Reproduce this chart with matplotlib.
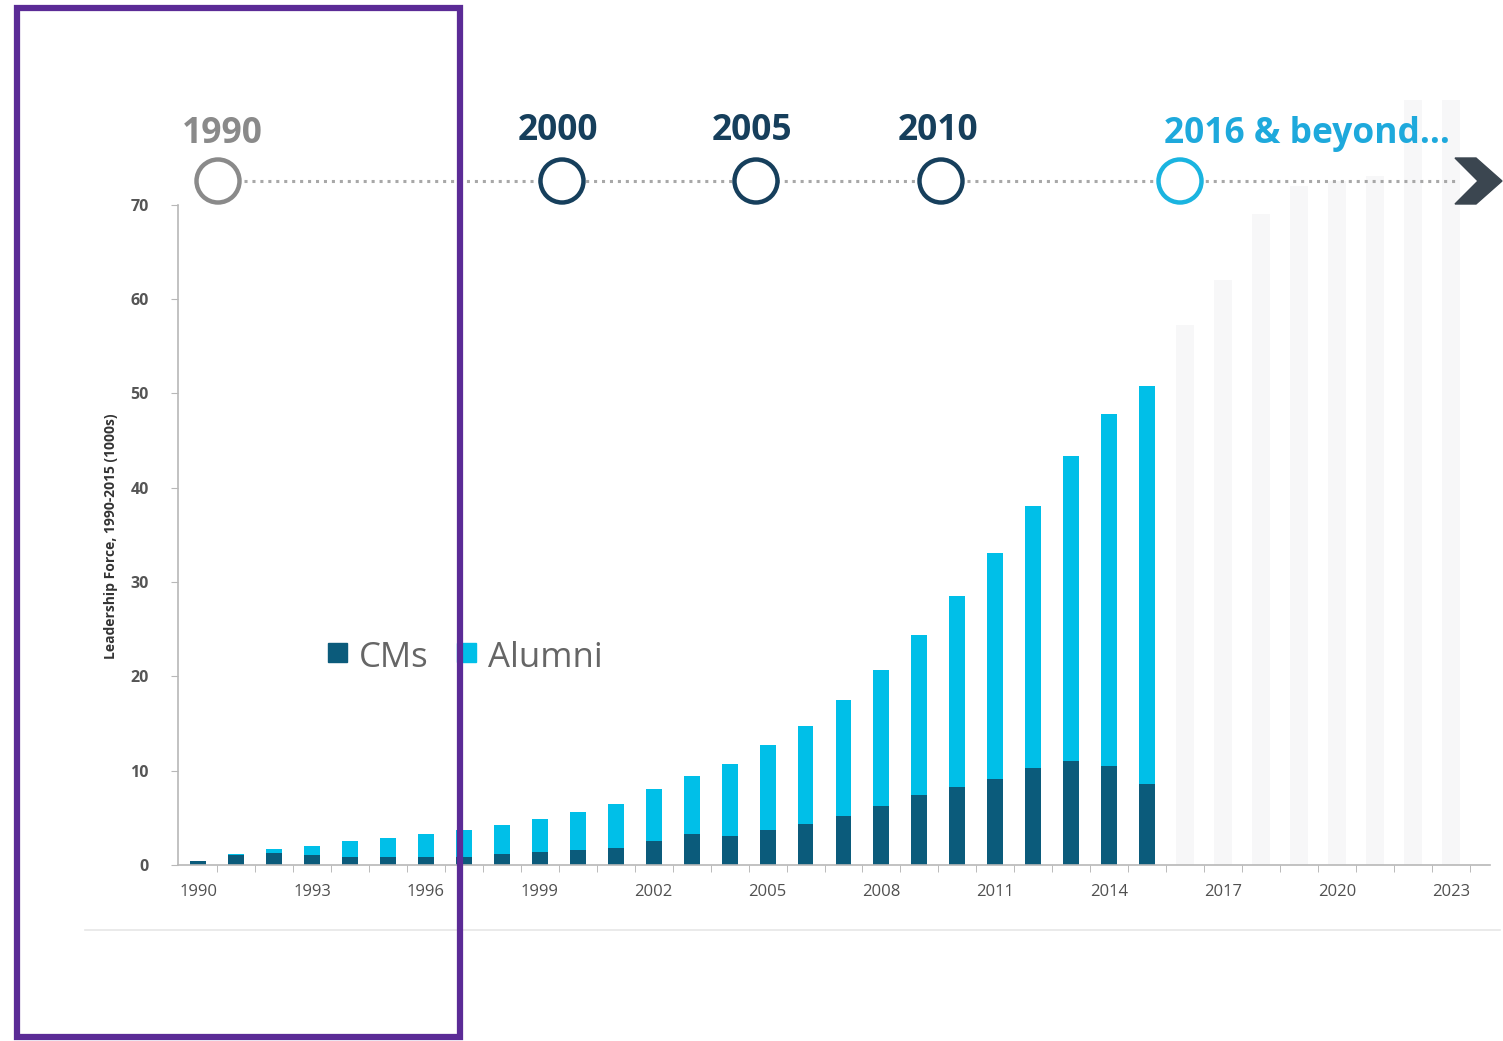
import matplotlib
matplotlib.use("Agg")
import matplotlib.pyplot as plt
from matplotlib.patches import Circle, Rectangle, Polygon
import numpy as np

plt.rcParams['font.family'] = ['Open Sans', 'DejaVu Sans']

# ---- data ----
years = list(range(1990, 2016))
cms = [0.4, 1.1, 1.3, 1.05, 0.9, 0.85, 0.85, 0.85, 1.15, 1.4, 1.6, 1.75, 2.55, 3.25, 3.05,
       3.75, 4.35, 5.2, 6.25, 7.4, 8.3, 9.1, 10.3, 11.0, 10.5, 8.6]
totals = [0.4, 1.2, 1.7, 2.05, 2.5, 2.9, 3.3, 3.7, 4.25, 4.85, 5.6, 6.45, 8.05, 9.4, 10.7,
          12.7, 14.7, 17.5, 20.7, 24.4, 28.5, 33.1, 38.1, 43.4, 47.8, 50.8]
alumni = [t - c for t, c in zip(totals, cms)]
future_years = list(range(2016, 2024))
future_vals = [57.2, 62.0, 69.0, 72.0, 72.5, 73.0, 81.5, 81.5]
xtick_years = list(range(1990, 2024, 3))
yticks = [0, 10, 20, 30, 40, 50, 60, 70]
milestones = ["1990", "2000", "2005", "2010", "2016 & beyond..."]

C_CM = "#0b5b7b"
C_AL = "#00bfe8"
C_FUT = "#f7f7f8"

W, H = 1503, 1041
fig = plt.figure(figsize=(W / 100, H / 100), dpi=100)

ax = fig.add_axes([178 / W, (H - 865) / H, (1490 - 178) / W, (865 - 100) / H])
ax.bar(future_years, future_vals, width=0.48, color=C_FUT, zorder=1)
ax.bar(years, cms, width=0.42, color=C_CM, zorder=2)
ax.bar(years, alumni, width=0.42, bottom=cms, color=C_AL, zorder=2)

ax.set_xlim(1989.47, 2024.03)
ax.set_ylim(0, 81.1)
for s in ["top", "right"]:
    ax.spines[s].set_visible(False)
ax.spines["left"].set_bounds(0, 70)
ax.spines["left"].set_color("#b8b8b8")
ax.spines["bottom"].set_color("#b8b8b8")
ax.spines["left"].set_linewidth(1.2)
ax.spines["bottom"].set_linewidth(1.2)
ax.set_yticks(yticks)
ax.set_yticklabels([str(v) for v in yticks], fontsize=11.5, color="#555555", fontweight="bold")
ax.tick_params(axis="y", length=5, color="#b8b8b8", pad=16)
ax.set_xticks(xtick_years)
ax.set_xticklabels([str(v) for v in xtick_years], fontsize=12, color="#505050")
ax.tick_params(axis="x", length=0, pad=14)
ax.set_xticks(np.arange(1990.5, 2024, 1.0), minor=True)
ax.tick_params(axis="x", which="minor", length=5, color="#b0b0b0", direction="out")
ax.set_ylabel("Leadership Force, 1990-2015 (1000s)", fontsize=10, fontweight="bold",
              color="#333333", labelpad=14)
ax.yaxis.set_label_coords(-0.046, 0.43)

# overlay in pixel coordinates
ov = fig.add_axes([0, 0, 1, 1], facecolor="none")
ov.set_xlim(0, W)
ov.set_ylim(H, 0)
ov.axis("off")

# bottom separator
ov.plot([85, 1500], [930, 930], color="#e6e6e6", lw=1.2)

# timeline
ov.plot([244, 1455], [181, 181], color="#a8a8a8", lw=2.2, ls=(0, (1, 1.6)))
cx = [218, 562, 756, 941, 1180]
ccol = ["#8a8a8a", "#163f5c", "#163f5c", "#163f5c", "#1ab4e0"]
tcol = ["#8a8a8a", "#163f5c", "#163f5c", "#163f5c", "#1ea9dc"]
tx = [222, 558, 752, 938, 1307]
ty = [134, 131, 131, 131, 134]
for x, c, tc, lab, t, yy in zip(cx, ccol, tcol, milestones, tx, ty):
    ov.add_patch(Circle((x, 181), 21.5, fill=True, facecolor="white", edgecolor=c, lw=3.2, zorder=3))
    ov.text(t, yy, lab, fontsize=25.5, fontweight="bold", color=tc, ha="center", va="center")
ov.add_patch(Polygon([[1455, 158], [1476, 158], [1502, 181], [1476, 204], [1455, 204], [1478, 181]],
                     closed=True, color="#3b4650", zorder=3))

# legend
ov.add_patch(Rectangle((328, 643), 19, 19, color=C_CM))
ov.text(359, 658, "CMs", fontsize=25, color="#666666", va="center", ha="left")
ov.add_patch(Rectangle((457, 643), 19, 19, color=C_AL))
ov.text(488, 658, "Alumni", fontsize=25, color="#666666", va="center", ha="left")

# purple frame
ov.add_patch(Rectangle((17, 8), 443, 1029, fill=False, edgecolor="#5b2b96", lw=4.5, zorder=5))

fig.savefig("out.png", dpi=100)
